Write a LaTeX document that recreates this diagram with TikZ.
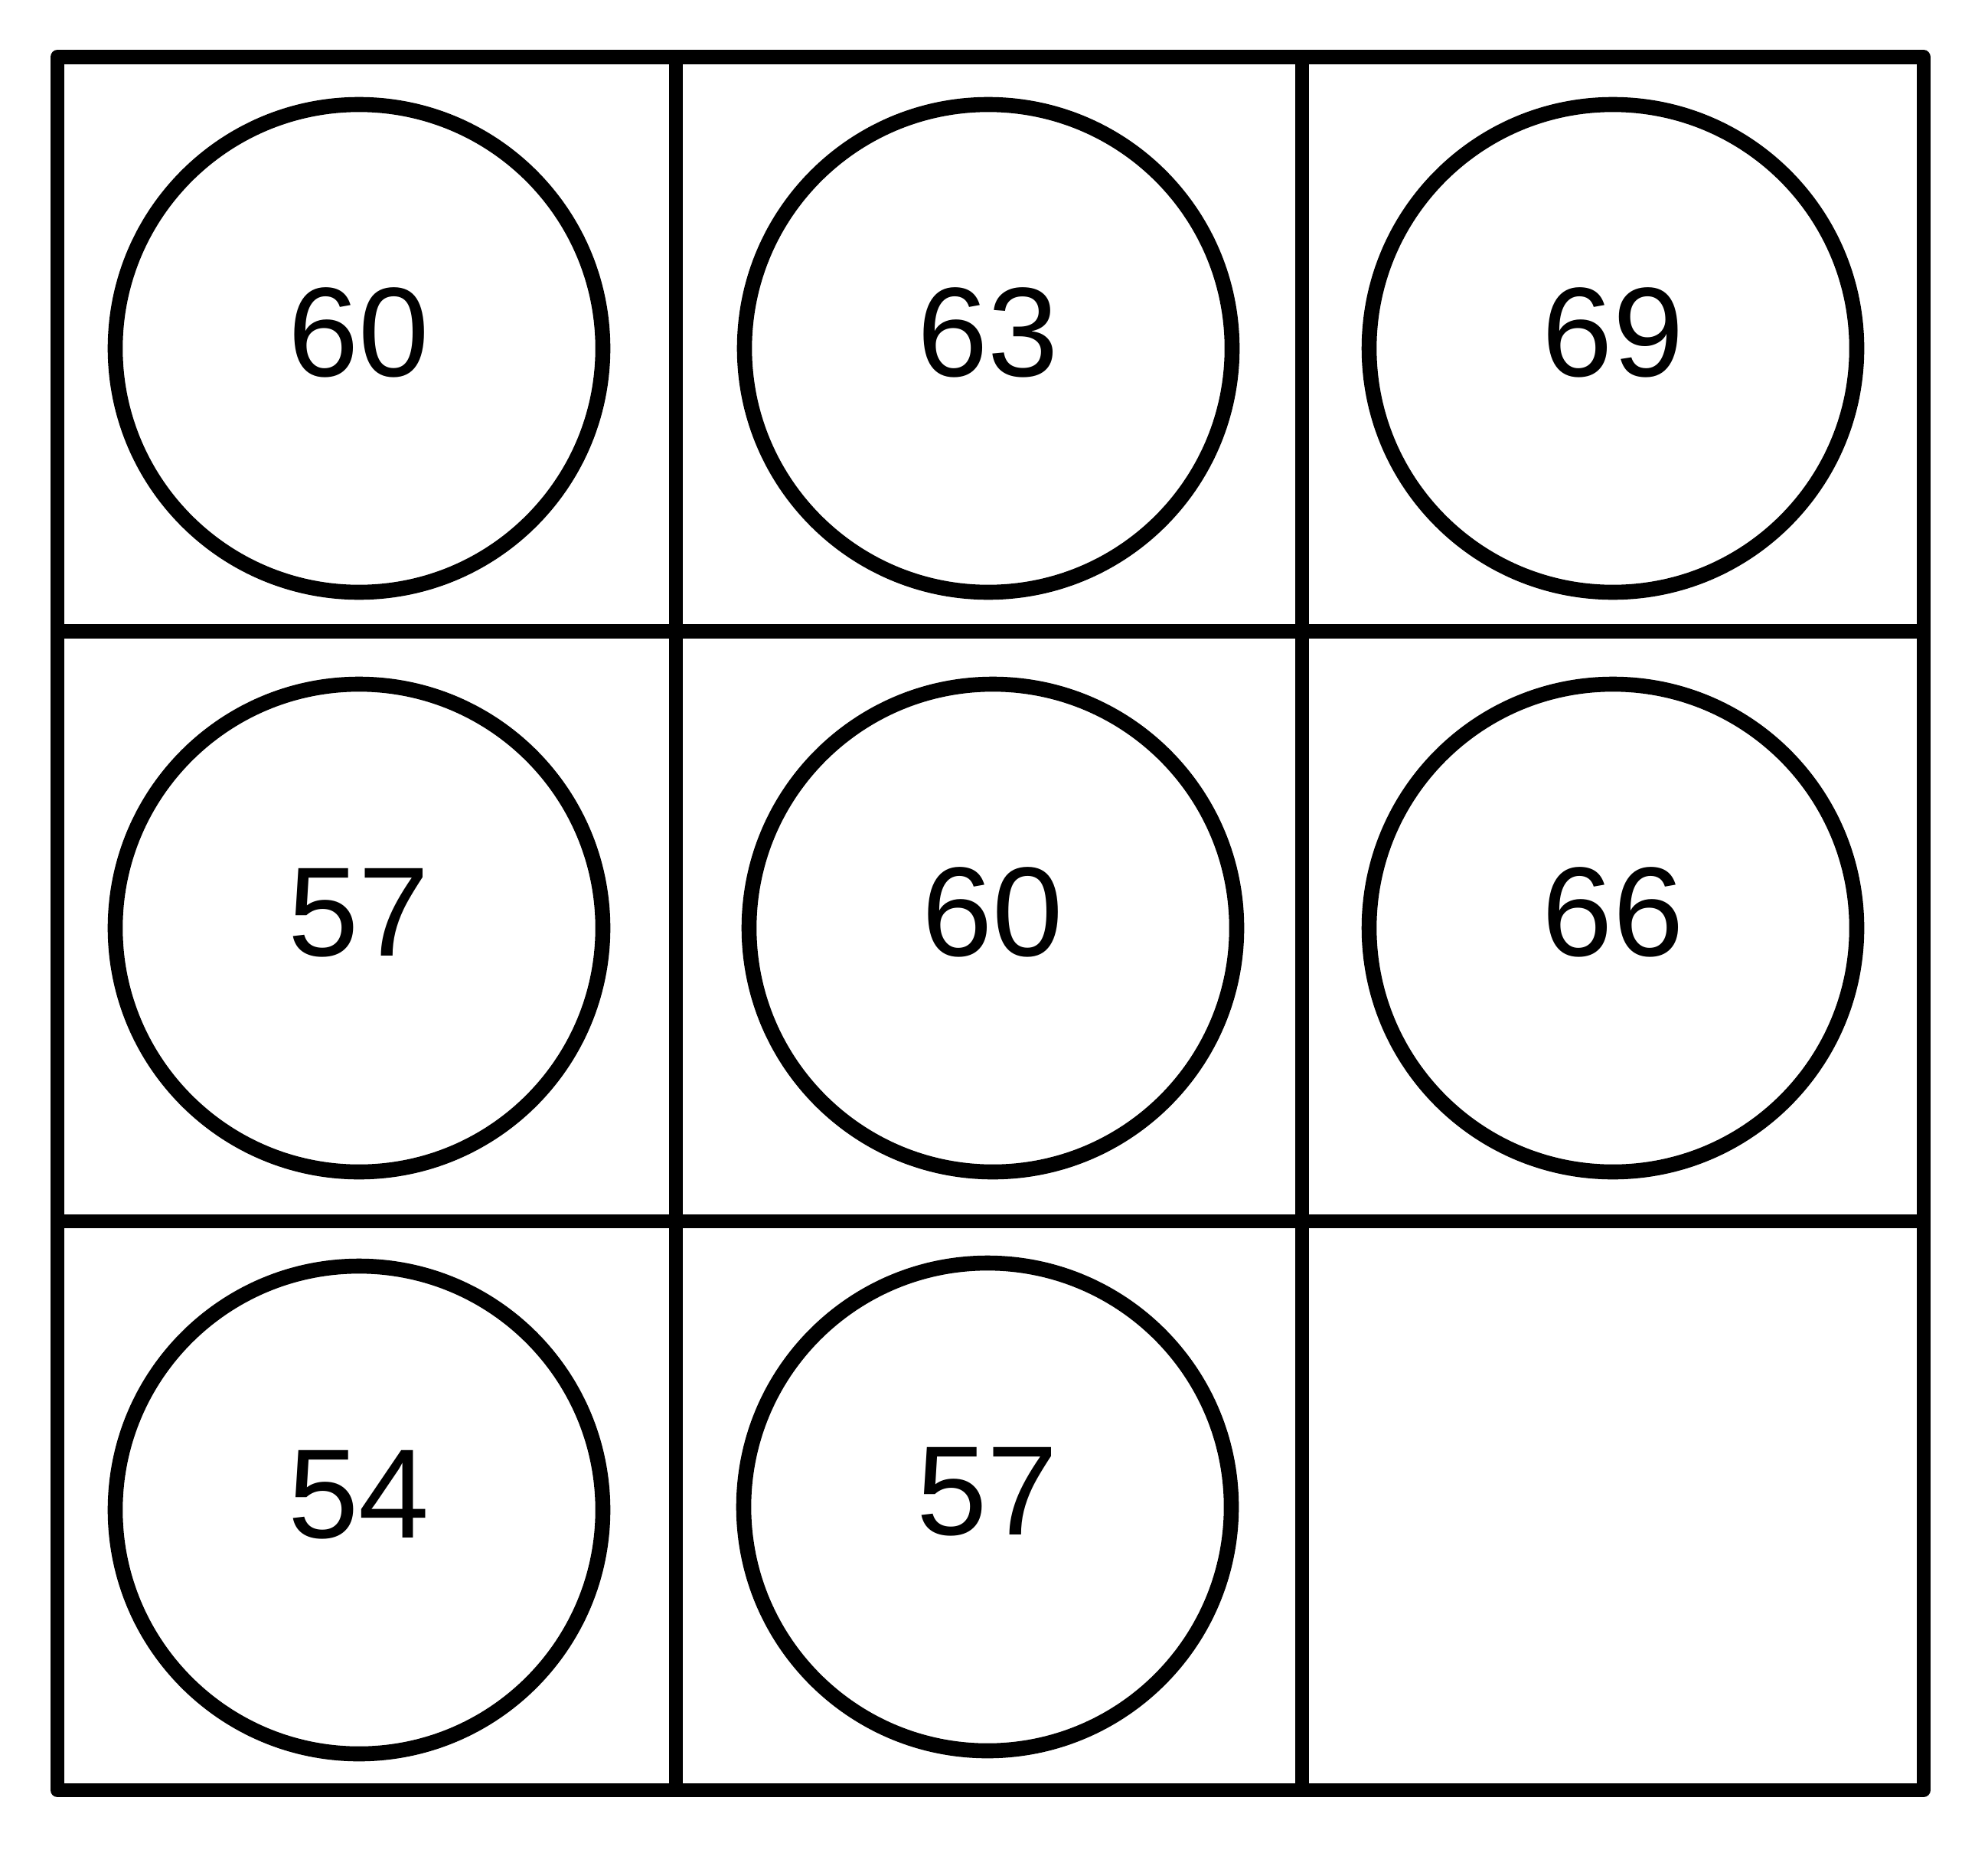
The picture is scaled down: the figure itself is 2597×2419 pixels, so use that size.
\documentclass[tikz,border=0pt]{standalone}
\usepackage{fontspec}
\setmainfont{Liberation Sans}
\begin{document}
\begin{tikzpicture}[x=0.25pt,y=-0.25pt,
  gridline/.style={line width=4.6pt},
  ring/.style={circle, draw, line width=4.9pt, minimum size=159.25pt, inner sep=0pt},
  num/.style={anchor=base, font=\fontsize{41.5pt}{50pt}\selectfont, inner sep=0pt}]
\useasboundingbox (0,0) rectangle (2597,2419);
% grid
\draw[gridline, line join=round] (75,74.5) rectangle (2512.7,2337.7);
\draw[gridline] (883,74.5) -- (883,2337.7);
\draw[gridline] (1700.7,74.5) -- (1700.7,2337.7);
\draw[gridline] (75,824.5) -- (2512.7,824.5);
\draw[gridline] (75,1595) -- (2512.7,1595);
% circles
\node[ring] (c11) at (469,455) {};
\node[ring] (c12) at (1291,455) {};
\node[ring] (c13) at (2107,455) {};
\node[ring] (c21) at (469,1212) {};
\node[ring] (c22) at (1297,1212) {};
\node[ring] (c23) at (2107,1212) {};
\node[ring] (c31) at (469,1972) {};
\node[ring] (c32) at (1290,1968) {};
% numbers
\node[num] (t11) at (469,491) {60};
\node[num] (t12) at (1291,491) {63};
\node[num] (t13) at (2107,491) {69};
\node[num] (t21) at (469,1248) {57};
\node[num] (t22) at (1297,1248) {60};
\node[num] (t23) at (2107,1248) {66};
\node[num] (t31) at (469,2008) {54};
\node[num] (t32) at (1290,2004) {57};
\end{tikzpicture}
\end{document}
